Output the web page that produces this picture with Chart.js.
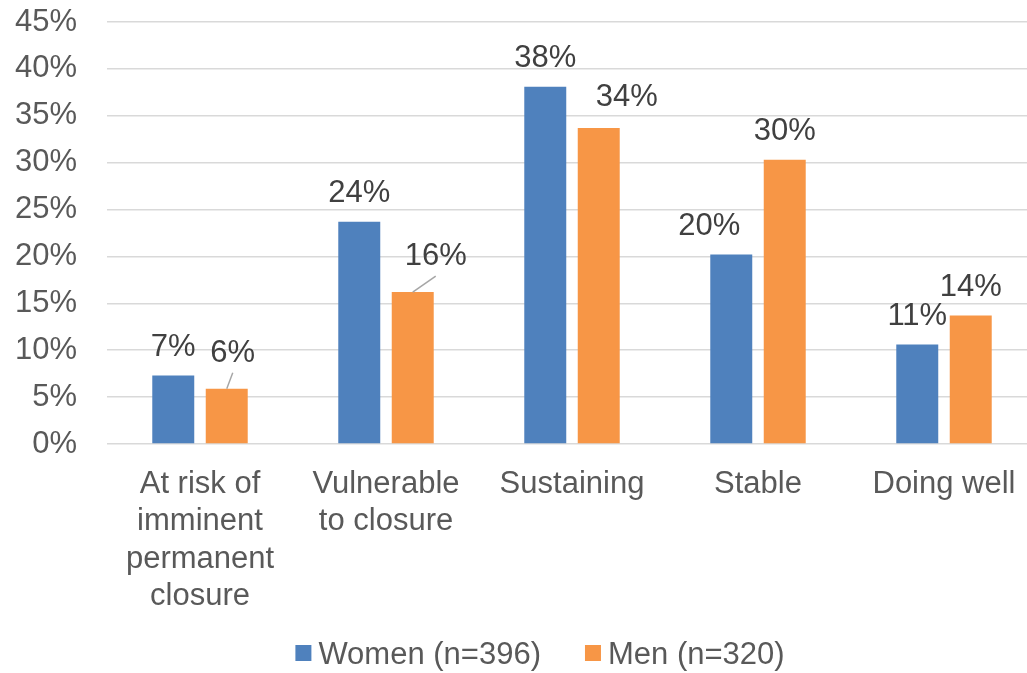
<!DOCTYPE html>
<html>
<head>
<meta charset="utf-8">
<title>Business status by gender</title>
<script src="https://cdn.jsdelivr.net/npm/chart.js@4.4.0/dist/chart.umd.min.js"></script>
<style>
    html, body { margin: 0; padding: 0; background: #fff; overflow: hidden; }
    canvas { display: block; }
</style>
</head>
<body>
<canvas id="statusChartCanvas" width="1037" height="673"></canvas>
<script>
// Chart data
const categories = [
    ['At risk of', 'imminent', 'permanent', 'closure'],
    ['Vulnerable', 'to closure'],
    'Sustaining',
    'Stable',
    'Doing well'
];
const seriesNames = ['Women (n=396)', 'Men (n=320)'];
const womenValues = [7.3, 23.7, 38.1, 20.2, 10.6];
const menValues = [5.9, 16.2, 33.7, 30.3, 13.7];
const yMin = 0;
const yMax = 45;
const yStep = 5;

// Label styling: shifts (dx, dy) of each data label and whether a leader line is drawn
const labelShift = [
    [[0, 0], [0, 0], [0, 0], [-22, 0], [0, 0]],
    [[6, -7], [23, -7], [28, -2], [0, 0], [0, 0]]
];
const leaderLines = [
    [false, false, false, false, false],
    [true, true, false, false, false]
];

const FONT = '"Liberation Sans", Arial, sans-serif';
const seriesColors = ['#4F81BD', '#F79646'];

// Value labels above bars
const barLabels = {
    id: 'barLabels',
    afterDatasetsDraw(chart) {
        const ctx = chart.ctx;
        ctx.save();
        ctx.font = '31px ' + FONT;
        ctx.textAlign = 'center';
        ctx.textBaseline = 'alphabetic';
        chart.data.datasets.forEach((ds, di) => {
            chart.getDatasetMeta(di).data.forEach((bar, i) => {
                const shift = labelShift[di][i];
                const lx = bar.x + shift[0];
                const ly = bar.y - 20 + shift[1];
                if (leaderLines[di][i]) {
                    ctx.strokeStyle = '#A6A6A6';
                    ctx.lineWidth = 1.5;
                    ctx.beginPath();
                    ctx.moveTo(lx, ly + 11);
                    ctx.lineTo(bar.x, bar.y);
                    ctx.stroke();
                }
                ctx.fillStyle = '#404040';
                ctx.fillText(Math.round(ds.data[i]) + '%', lx, ly);
            });
        });
        ctx.restore();
    }
};

// Legend drawn at the bottom
const bottomLegend = {
    id: 'bottomLegend',
    afterDraw(chart) {
        const ctx = chart.ctx;
        const box = 16, boxGap = 7, itemGap = 44;
        const centerX = 540, midY = 653;
        ctx.save();
        ctx.font = '31px ' + FONT;
        const widths = chart.data.datasets.map(ds => ctx.measureText(ds.label).width);
        let total = 0;
        widths.forEach((w, i) => { total += box + boxGap + w + (i > 0 ? itemGap : 0); });
        let x = centerX - total / 2;
        chart.data.datasets.forEach((ds, i) => {
            ctx.fillStyle = ds.backgroundColor;
            ctx.fillRect(x, midY - box / 2, box, box);
            x += box + boxGap;
            ctx.fillStyle = '#595959';
            ctx.textAlign = 'left';
            ctx.textBaseline = 'alphabetic';
            ctx.fillText(ds.label, x, midY + 11);
            x += widths[i] + itemGap;
        });
        ctx.restore();
    }
};

const statusChart = new Chart(document.getElementById('statusChartCanvas').getContext('2d'), {
    type: 'bar',
    data: {
        labels: categories,
        datasets: [
            {
                label: seriesNames[0],
                data: womenValues,
                backgroundColor: seriesColors[0],
                categoryPercentage: 0.575,
                barPercentage: 0.785
            },
            {
                label: seriesNames[1],
                data: menValues,
                backgroundColor: seriesColors[1],
                categoryPercentage: 0.575,
                barPercentage: 0.785
            }
        ]
    },
    options: {
        responsive: false,
        animation: false,
        layout: { autoPadding: false, padding: { top: 22, left: 0, right: 0, bottom: 60 } },
        plugins: {
            legend: { display: false },
            tooltip: { enabled: false }
        },
        scales: {
            y: {
                min: yMin,
                max: yMax,
                afterFit: s => {
                    s.width = 107;
                    s.paddingTop = 0;
                    s.paddingBottom = 0;
                },
                border: { display: false },
                grid: { color: '#D9D9D9', lineWidth: 1.5, drawTicks: false },
                ticks: {
                    stepSize: yStep,
                    padding: 30,
                    color: '#595959',
                    font: { family: FONT, size: 31 },
                    callback: v => v + '%'
                }
            },
            x: {
                afterFit: s => {
                    s.height = 169;
                    s.paddingLeft = 0;
                    s.paddingRight = 0;
                },
                border: { display: false },
                grid: { display: false, drawTicks: false },
                ticks: {
                    padding: 22,
                    color: '#595959',
                    maxRotation: 0,
                    autoSkip: false,
                    font: { family: FONT, size: 31, lineHeight: 1.2 }
                }
            }
        }
    },
    plugins: [barLabels, bottomLegend]
});
</script>
</body>
</html>
